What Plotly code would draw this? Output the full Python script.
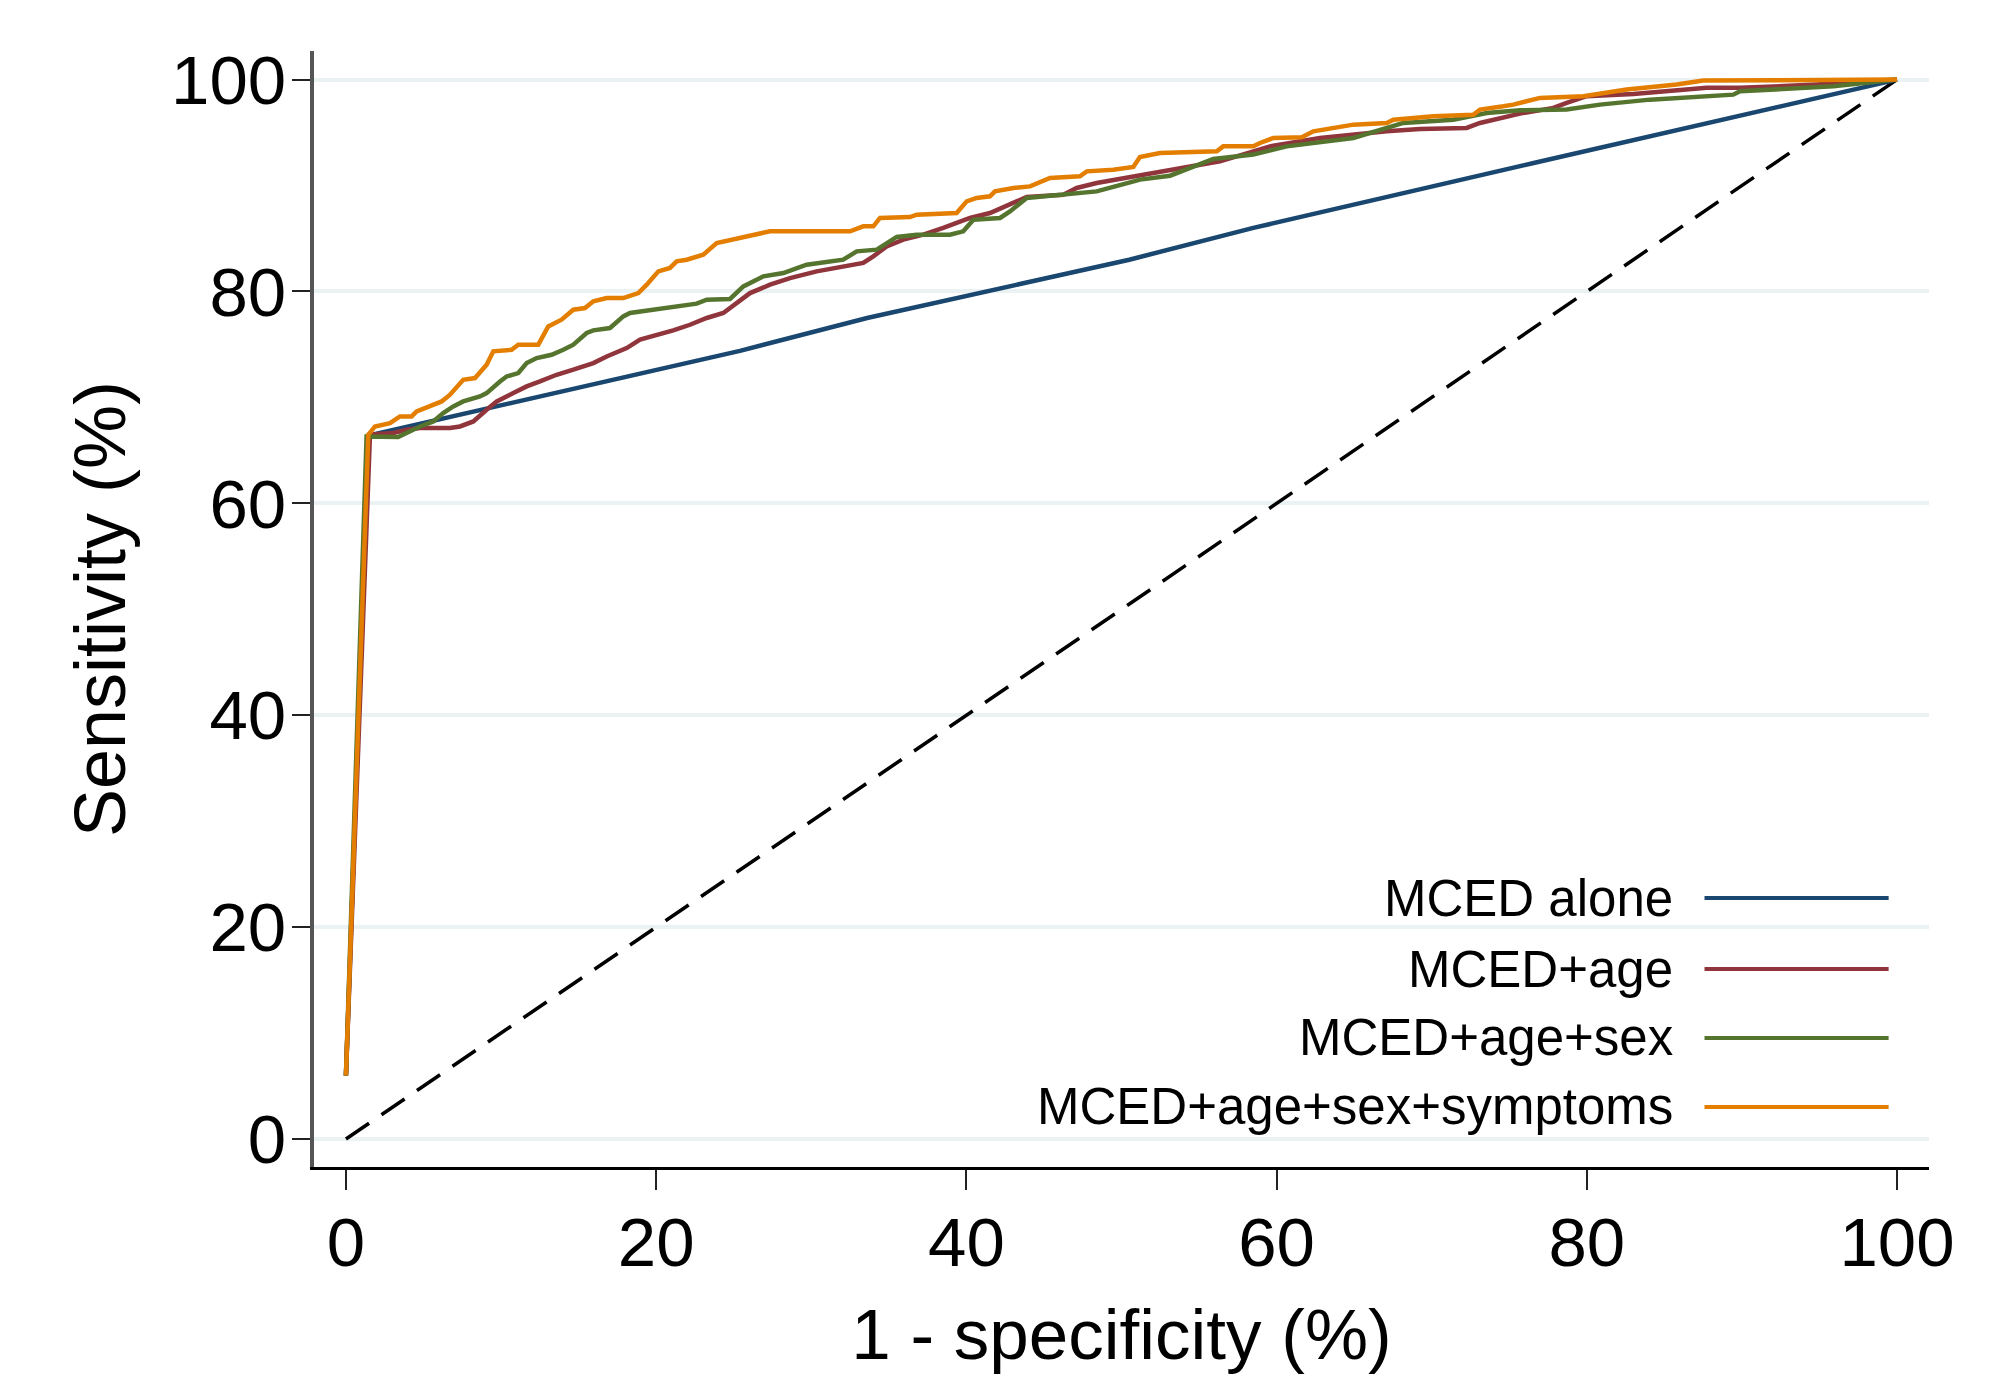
import plotly.graph_objects as go

# ---- data (percent) ----
series_names = ["MCED alone", "MCED+age", "MCED+age+sex", "MCED+age+sex+symptoms"]
series_colors = ["#1a476f", "#90353b", "#55752f", "#e37e00"]

fpr_alone = [0, 1.45, 25.4, 33.6, 50.5, 58.5, 76.5, 100]
tpr_alone = [6.0, 66.4, 74.4, 77.5, 83.0, 86.0, 92.1, 100]

fpr_age = [0, 1.55, 3.05, 3.91, 4.77, 6.71, 7.35, 8.21, 9.07, 9.72, 10.79, 11.65, 12.51, 13.58,
           14.66, 15.95, 16.81, 18.10, 18.96, 20.24, 21.10, 22.18, 23.26, 24.33, 24.76, 25.40,
           26.05, 27.34, 28.63, 30.35, 32.06, 33.35, 34.0, 34.86, 35.93, 37.22, 38.51, 40.23,
           41.52, 43.24, 43.89, 46.25, 47.11, 48.40, 50.55, 53.13, 56.35, 59.57, 62.80, 67.10,
           69.25, 72.25, 73.11, 75.69, 77.84, 78.70, 79.99, 83.00, 86.44, 87.73, 89.88, 94.82, 100]
tpr_age = [6.0, 66.48, 66.64, 66.95, 67.11, 67.11, 67.26, 67.73, 68.84, 69.62, 70.41, 71.04, 71.51, 72.14,
           72.62, 73.24, 73.87, 74.66, 75.45, 75.92, 76.33, 76.86, 77.50, 77.97, 78.44, 79.07,
           79.85, 80.64, 81.27, 81.90, 82.37, 82.69, 83.32, 84.26, 84.89, 85.36, 86.00, 86.94,
           87.41, 88.51, 88.92, 89.14, 89.77, 90.24, 90.80, 91.50, 92.29, 93.70, 94.49, 95.12,
           95.34, 95.44, 95.91, 96.79, 97.33, 97.80, 98.43, 98.65, 99.06, 99.22, 99.22, 99.53, 100]

fpr_sex = [0, 1.33, 3.37, 3.91, 4.77, 5.63, 6.27, 6.92, 7.56, 8.64, 9.07, 9.93, 10.36, 11.11, 11.65,
           12.30, 13.26, 14.01, 14.66, 15.52, 15.95, 17.02, 17.88, 18.31, 19.81, 20.89, 22.61, 23.26,
           24.76, 25.62, 26.91, 28.20, 29.70, 32.06, 32.93, 34.22, 35.51, 36.80, 38.94, 39.80, 40.45,
           42.17, 42.81, 43.89, 46.25, 48.40, 50.55, 51.19, 53.13, 55.92, 58.50, 60.65, 64.95, 68.17,
           71.39, 73.55, 75.69, 78.70, 80.85, 84.07, 89.44, 89.88, 95.89, 100]
tpr_sex = [6.0, 66.32, 66.26, 66.64, 67.26, 67.73, 68.52, 69.15, 69.62, 70.09, 70.41, 71.51, 71.98, 72.30, 73.24,
           73.72, 74.03, 74.50, 74.98, 76.08, 76.33, 76.55, 77.65, 77.97, 78.28, 78.53, 78.85, 79.22,
           79.30, 80.48, 81.43, 81.74, 82.53, 83.00, 83.79, 83.95, 85.15, 85.36, 85.36, 85.68, 86.78,
           86.94, 87.56, 88.83, 89.14, 89.45, 90.30, 90.56, 90.93, 92.51, 92.92, 93.70, 94.49, 95.91,
           96.22, 96.85, 97.10, 97.17, 97.64, 98.11, 98.58, 98.90, 99.37, 100]

fpr_sym = [0, 1.44, 1.87, 2.84, 3.48, 4.23, 4.56, 5.42, 6.17, 6.71, 7.56, 8.32, 9.07, 9.50, 10.68,
           11.11, 12.40, 13.04, 13.90, 14.66, 15.41, 15.95, 16.81, 17.88, 18.85, 19.39, 20.14, 20.89,
           21.32, 21.97, 23.04, 23.90, 25.20, 25.62, 27.34, 32.50, 33.35, 34.0, 34.43, 36.36, 36.80,
           39.37, 40.02, 40.66, 41.52, 41.84, 43.03, 44.10, 45.39, 47.32, 47.76, 49.47, 50.76, 51.19,
           52.48, 56.14, 56.56, 58.50, 58.93, 59.79, 61.62, 62.37, 63.66, 64.95, 67.10, 67.53, 68.82,
           70.11, 72.68, 73.11, 74.62, 75.26, 76.98, 79.77, 82.57, 85.79, 87.51, 100]
tpr_sym = [6.0, 66.48, 67.26, 67.58, 68.21, 68.21, 68.68, 69.15, 69.62, 70.26, 71.67, 71.83, 73.09, 74.35, 74.50,
           74.98, 74.98, 76.70, 77.34, 78.28, 78.44, 79.07, 79.38, 79.38, 79.85, 80.64, 81.90, 82.22,
           82.84, 83.00, 83.48, 84.58, 85.00, 85.21, 85.68, 85.68, 86.15, 86.15, 86.94, 87.03, 87.25,
           87.41, 88.51, 88.83, 88.98, 89.45, 89.77, 89.92, 90.71, 90.87, 91.34, 91.50, 91.75, 92.70,
           93.07, 93.23, 93.70, 93.70, 94.02, 94.49, 94.55, 95.12, 95.44, 95.75, 95.91, 96.22, 96.38,
           96.53, 96.69, 97.17, 97.48, 97.64, 98.27, 98.43, 99.06, 99.53, 99.91, 100]

ref_x = [0, 100]
ref_y = [0, 100]

tick_vals = [0, 20, 40, 60, 80, 100]
x_title = "1 - specificity (%)"
y_title = "Sensitivity (%)"

FONT = "Liberation Sans, Arial, sans-serif"

fig = go.Figure()

fig.add_trace(go.Scatter(x=ref_x, y=ref_y, mode="lines",
                         line=dict(color="black", width=3.5, dash="28px,15px"),
                         showlegend=False, hoverinfo="skip"))

all_x = [fpr_alone, fpr_age, fpr_sex, fpr_sym]
all_y = [tpr_alone, tpr_age, tpr_sex, tpr_sym]
for name, col, xs, ys in zip(series_names, series_colors, all_x, all_y):
    fig.add_trace(go.Scatter(x=xs, y=ys, mode="lines", name=name,
                             line=dict(color=col, width=4.5), showlegend=False))

# manual legend (text right-aligned, sample line to the right), Stata style
legend_y = [0.241, 0.1774, 0.1156, 0.0538]
for name, col, ly in zip(series_names, series_colors, legend_y):
    fig.add_annotation(xref="paper", yref="paper", x=0.8425, y=ly, text=name,
                       showarrow=False, xanchor="right", yanchor="middle",
                       font=dict(family=FONT, size=51, color="black"))
    fig.add_shape(type="line", xref="paper", yref="paper", x0=0.861, x1=0.975,
                  y0=ly, y1=ly, line=dict(color=col, width=4))

fig.update_layout(
    width=2000, height=1376,
    margin=dict(l=306, r=79, t=43, b=217),
    paper_bgcolor="white", plot_bgcolor="white",
    font=dict(family=FONT, color="black"),
    showlegend=False,
    hovermode=False,
)
fig.update_xaxes(
    range=[-2.06, 102.06], tickvals=tick_vals, ticks="outside", ticklen=20, tickwidth=2,
    tickcolor="#222222", showline=True, linecolor="black", linewidth=3,
    showgrid=False, zeroline=False, tickfont=dict(size=69, family=FONT),
    ticklabelstandoff=-7,
    title=dict(text=x_title, font=dict(size=71, family=FONT), standoff=30),
)
fig.update_yaxes(
    range=[-2.64, 102.7], tickvals=tick_vals, ticks="outside", ticklen=18, tickwidth=2,
    tickcolor="#222222", showline=True, linecolor="#555555", linewidth=4,
    showgrid=True, gridcolor="#EAF2F3", gridwidth=4, zeroline=False,
    tickfont=dict(size=69, family=FONT),
    ticklabelstandoff=-8,
    title=dict(text=y_title, font=dict(size=72, family=FONT), standoff=23),
)

fig.write_html("out.html")
